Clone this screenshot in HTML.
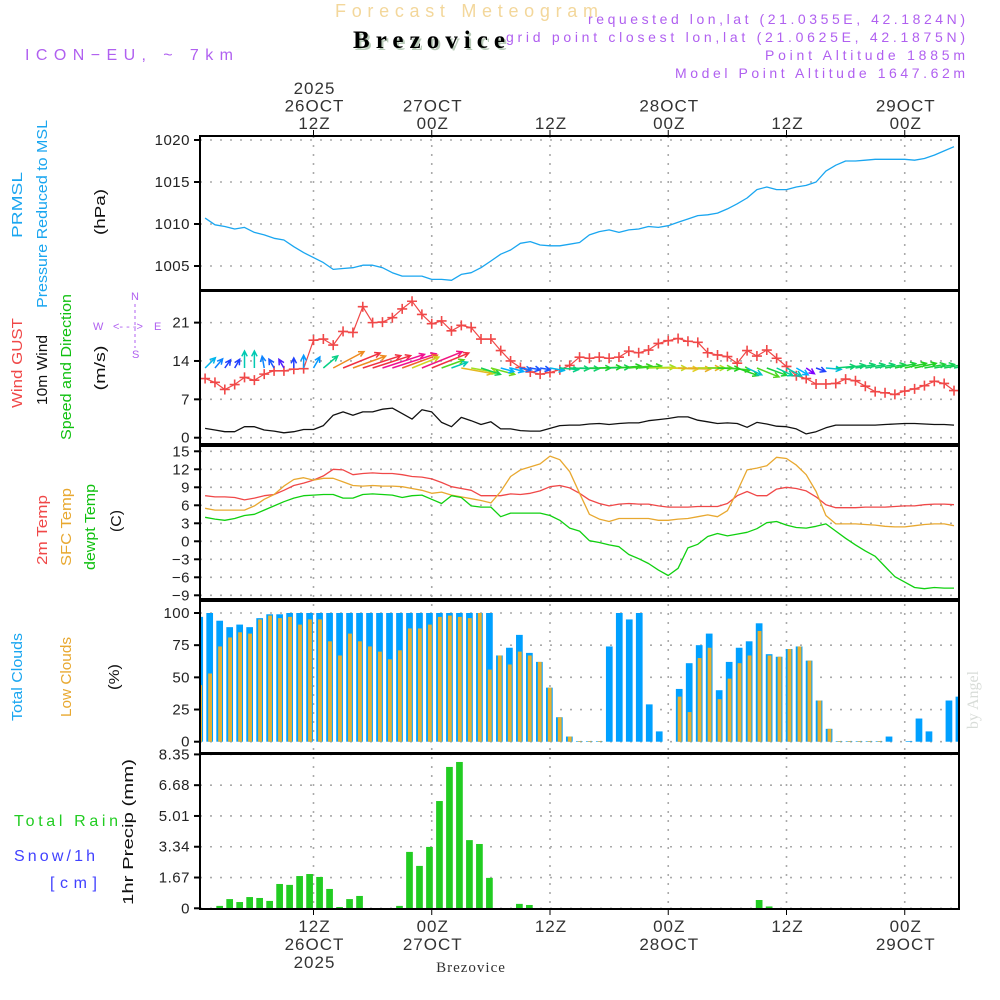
<!DOCTYPE html>
<html><head><meta charset="utf-8"><style>
body{margin:0;background:#fff;width:1000px;height:1000px;overflow:hidden}
svg{display:block;font-family:"Liberation Sans",sans-serif}
</style></head><body>
<svg id="c" width="1000" height="1000" viewBox="0 0 1000 1000">
<defs><clipPath id="pc"><rect x="200" y="130" width="759" height="790"/></clipPath></defs>
<g id="hdr">
<text x="335" y="17" textLength="263" font-size="18" fill="#f3d79b">Forecast Meteogram</text>
<text x="355" y="50" textLength="152" font-size="25" font-weight="bold" font-family="Liberation Serif,serif" fill="#b9cbb9">Brezovice</text>
<text x="353" y="48" textLength="152" font-size="25" font-weight="bold" font-family="Liberation Serif,serif" fill="#000">Brezovice</text>
<text x="25" y="60" textLength="208" font-size="16" fill="#b060f0">ICON−EU, ~ 7km</text>
<text x="965" y="24" text-anchor="end" textLength="377" font-size="14" fill="#b060f0">requested lon,lat (21.0355E, 42.1824N)</text>
<text x="965" y="42" text-anchor="end" textLength="459" font-size="14" fill="#b060f0">grid point closest lon,lat (21.0625E, 42.1875N)</text>
<text x="965" y="60" text-anchor="end" textLength="200" font-size="14" fill="#b060f0">Point Altitude 1885m</text>
<text x="965" y="78" text-anchor="end" textLength="290" font-size="14" fill="#b060f0">Model Point Altitude 1647.62m</text>
<text x="978" y="700" transform="rotate(-90 978 700)" text-anchor="middle" font-size="16" font-family="Liberation Serif,serif" fill="#d8dcd8">by Angel</text>
</g>
<g id="grid"></g>
<g id="marks" clip-path="url(#pc)"></g>
<g id="frames"></g>
<g id="labels"></g>
</svg>
<script>
// ---- data (hourly, hours 1..77 from 26 OCT 00Z) ----
const pressure=[1010.7,1009.9,1009.7,1009.4,1009.6,1009.0,1008.7,1008.3,1008.1,1007.3,1006.6,1006.0,1005.4,1004.6,1004.7,1004.8,1005.1,1005.1,1004.8,1004.2,1003.8,1003.8,1003.8,1003.4,1003.4,1003.3,1004.0,1004.2,1004.8,1005.6,1006.4,1006.9,1007.7,1007.9,1007.5,1007.4,1007.4,1007.6,1007.8,1008.7,1009.1,1009.3,1009.0,1009.3,1009.4,1009.7,1009.6,1009.8,1010.2,1010.6,1011.0,1011.1,1011.3,1011.8,1012.4,1013.1,1014.1,1014.4,1014.1,1014.1,1014.4,1014.6,1015.0,1016.3,1017.0,1017.5,1017.5,1017.6,1017.7,1017.7,1017.7,1017.7,1017.6,1017.8,1018.2,1018.7,1019.2];
const gust=[10.8,10.1,8.8,9.7,11.0,10.5,11.6,12.2,12.2,12.5,12.6,17.8,18.0,16.9,19.4,19.2,23.9,21.0,21.1,21.9,23.5,24.9,22.5,20.8,21.3,19.5,20.5,20.1,18.0,18.0,15.9,14.0,12.8,12.0,11.6,11.9,12.4,13.2,14.7,14.5,14.7,14.5,14.7,15.8,15.5,16.0,17.2,17.7,18.1,17.6,17.4,15.5,15.1,14.8,13.6,15.9,14.9,16.0,14.5,13.0,11.3,10.8,9.8,9.8,9.9,10.7,10.4,9.4,8.4,8.2,7.9,8.5,8.9,9.5,10.3,9.9,8.6];
const wind=[1.7,1.4,1.1,1.1,2.0,2.0,1.4,1.2,0.9,1.1,1.5,1.5,2.2,4.1,4.7,4.1,4.7,4.7,5.2,5.4,4.4,3.4,5.1,4.7,2.8,2.0,3.7,3.1,2.4,2.9,1.6,1.6,1.3,1.2,1.2,1.7,2.2,2.3,2.3,2.5,2.6,2.4,2.6,2.7,2.7,3.1,3.3,3.5,3.8,3.8,3.2,2.9,2.6,2.7,2.6,1.9,2.8,2.5,2.1,2.0,1.6,0.7,1.1,1.8,2.3,2.3,2.3,2.3,2.3,2.4,2.5,2.6,2.6,2.5,2.4,2.4,2.3];
const windDir=[45,40,35,30,0,0,350,330,330,0,0,30,50,62,68,70,72,72,72,72,70,68,68,68,70,70,100,100,108,105,105,105,100,100,100,100,95,92,92,90,88,88,85,85,85,88,90,92,92,90,90,90,92,95,110,115,112,110,115,118,120,125,110,95,85,82,80,80,80,80,78,78,78,80,80,80,80];
const temp2m=[7.6,7.4,7.4,7.3,6.9,7.2,7.6,7.8,8.5,9.3,9.7,10.2,10.9,12.0,11.9,11.1,11.3,11.4,11.3,11.3,11.1,10.8,10.7,10.4,9.8,9.1,8.8,8.5,7.6,7.6,7.6,7.9,7.8,8.0,8.4,9.1,9.3,8.9,8.0,6.9,6.3,5.9,6.2,6.3,6.2,6.2,5.9,5.7,5.7,5.7,5.8,5.8,5.8,6.3,7.6,8.3,7.6,7.6,8.7,9.0,8.8,8.4,7.4,6.1,5.6,5.6,5.6,5.7,5.7,5.7,5.8,5.9,5.9,6.1,6.2,6.2,6.1];
const tempSfc=[5.5,5.2,5.2,5.2,5.2,5.9,7.0,7.8,9.2,10.3,10.6,10.2,10.5,10.5,9.9,9.3,9.2,9.3,9.2,9.2,9.1,8.8,8.5,8.0,8.2,7.7,7.4,7.1,6.8,6.4,8.3,10.8,11.9,12.4,12.9,14.2,13.6,11.6,8.0,4.5,3.7,3.3,3.8,3.8,3.8,3.8,3.5,3.5,3.7,3.8,4.1,4.4,4.1,5.1,8.3,11.9,12.2,12.6,14.0,13.8,12.7,11.1,8.3,4.3,2.9,2.9,2.9,2.8,2.7,2.5,2.4,2.4,2.6,2.8,2.9,2.9,2.6];
const dewpt=[4.0,3.7,3.5,3.8,4.3,4.5,5.2,5.9,6.6,7.2,7.6,7.7,7.8,7.8,7.2,7.2,7.8,7.9,7.8,7.7,7.3,7.6,7.7,7.0,6.3,7.6,7.3,5.9,5.7,5.7,4.1,4.7,4.7,4.7,4.7,4.3,3.5,2.2,1.7,0.1,-0.2,-0.6,-0.9,-2.2,-2.9,-3.7,-4.8,-5.7,-4.5,-1.1,-0.5,0.8,1.3,0.9,1.2,1.5,2.1,3.1,3.3,2.7,2.3,2.2,2.5,2.9,1.7,0.5,-0.6,-1.6,-2.5,-4.2,-5.9,-6.8,-7.7,-7.9,-7.7,-7.8,-7.8];
// bar series (78 bars)
const totalClouds=[97,100,94,89,91,89,96,99,99,100,100,100,100,100,100,100,100,100,100,100,100,100,100,100,100,100,100,100,100,100,67,73,83,69,62,42,19,4,0.5,0.5,0.5,74,100,95,100,29,8,0,41,61,75,84,40,62,73,78,92,68,66,72,74,63,32,10,0.5,0.5,0.5,0.5,0.5,4,0,0.5,18,8,0,32,35,0];
const lowClouds=[44,53,74,81,85,84,95,98,96,97,91,95,95,78,67,84,78,74,70,64,71,88,88,91,97,98,97,96,100,56,67,60,70,67,62,42,19,4,0.5,0.5,0.5,0,0,0,0,0,0,0,35,23,65,73,33,49,61,67,86,67,66,72,74,63,32,10,0.5,0.5,0.5,0.5,0.5,0,0,0,0,0,0,0,0,0];
const precip=[0,0,0.13,0.5,0.34,0.61,0.56,0.4,1.32,1.27,1.75,1.86,1.7,1.05,0.07,0.5,0.67,0,0,0,0.13,3.06,2.3,3.33,5.82,7.67,7.94,3.7,3.49,1.65,0,0,0.24,0.18,0,0,0,0,0,0,0,0,0,0,0,0,0,0,0,0,0,0,0,0,0,0,0.45,0.1,0,0,0,0,0,0,0,0,0,0,0,0,0,0,0,0,0,0,0,0];
const pTicks=[1020,1015,1010,1005];
const wTicks=[21,14,7,0];
const tTicks=[15,12,9,6,3,0,-3,-6,-9];
const cTicks=[100,75,50,25,0];
const rTicks=[8.35,6.68,5.01,3.34,1.67,0];
const timeHours=[12,24,36,48,60,72];
const topLab=[["2025","26OCT","12Z"],["","27OCT","00Z"],["","","12Z"],["","28OCT","00Z"],["","","12Z"],["","29OCT","00Z"]];
const botLab=[["12Z","26OCT","2025"],["00Z","27OCT",""],["12Z","",""],["00Z","28OCT",""],["12Z","",""],["00Z","29OCT",""]];

// ---- scales ----
const X0=200,X1=959;
const xh=h=>195.25+h*9.854;
const xb=k=>199.7+k*9.99;
const yP=p=>140+(1020-p)*8.4;
const yW=v=>437.7-v*5.48;
const yT=t=>541.3-t*6;
const yC=c=>741.7-c*1.287;
const yR=r=>908.3-r*18.43;
const panels=[[136,290],[291,444],[446,599],[601,753],[754,909]];

const NS='http://www.w3.org/2000/svg';
function mk(tag,attrs,parent){const e=document.createElementNS(NS,tag);for(const k in attrs)e.setAttribute(k,attrs[k]);parent.appendChild(e);return e;}
const G=document.getElementById('grid'),M=document.getElementById('marks'),F=document.getElementById('frames'),L=document.getElementById('labels');

function hgrid(vals,yf,fmt,name){
  vals.forEach(v=>{
    const y=yf(v);
    const g=mk('line',{x1:X0,x2:X1,y1:y,y2:y,stroke:'#aaa','stroke-width':1.6,'stroke-dasharray':'2 8'},G);
    
    
    const tk=mk('line',{x1:X0-6,x2:X0,y1:y,y2:y,stroke:'#000','stroke-width':2},F);
    
    
    const t=mk('text',{x:X0-10,y:y+5,'text-anchor':'end','font-size':15,fill:'#222','letter-spacing':'0.5'},L);
    t.textContent=fmt(v);
    
    
  });
}
hgrid(pTicks,yP,v=>v,'pressure');
hgrid(wTicks,yW,v=>v,'wind');
hgrid(tTicks,yT,v=>v<0?'−'+(-v):v,'temp');
hgrid(cTicks,yC,v=>v,'cloud');
hgrid(rTicks,yR,v=>v==0?'0':v.toFixed(2),'precip');

timeHours.forEach((h,i)=>{
  const x=xh(h);
  const v=mk('line',{x1:x,x2:x,y1:136,y2:909,stroke:'#aaa','stroke-width':1.6,'stroke-dasharray':'2 7'},G);
  
  
  const t1=mk('line',{x1:x,x2:x,y1:130,y2:136,stroke:'#000','stroke-width':1},F);
  
  
  const t2=mk('line',{x1:x,x2:x,y1:909,y2:915,stroke:'#000','stroke-width':1},F);
  
  
  topLab[i].forEach((s,j)=>{ if(!s)return;
    const t=mk('text',{x:x+1,y:94+j*17.5,'text-anchor':'middle','font-size':17,fill:'#333','letter-spacing':'1'},L);
    t.textContent=s;
    
    
  });
  botLab[i].forEach((s,j)=>{ if(!s)return;
    const t=mk('text',{x:x+1,y:932+j*18,'text-anchor':'middle','font-size':17,fill:'#333','letter-spacing':'1'},L);
    t.textContent=s;
    
    
  });
});

// frames
panels.forEach((p,i)=>{
  const r=mk('rect',{x:X0,y:p[0],width:X1-X0,height:p[1]-p[0],fill:'none',stroke:'#000','stroke-width':2},F);
  
  
});

function line(arr,yf,color,w,name){
  const d=arr.map((v,i)=>(i?'L':'M')+xh(i+1).toFixed(1)+' '+yf(v).toFixed(1)).join(' ');
  const p=mk('path',{d:d,fill:'none',stroke:color,'stroke-width':w,'stroke-linejoin':'round'},M);
  
  
}
// bars
function bars(arr,yf,color,w,name,off){
  arr.forEach((v,k)=>{
    const y=yf(v),yb=yf(0);
    const r=mk('rect',{x:xb(k)-w/2+(off||0),y:y,width:w,height:Math.max(0,yb-y),fill:color},M);
    
    
  });
}
bars(totalClouds,yC,'#00a0ff',6.7,'total-cloud-bar');
bars(lowClouds,yC,'#e8b030',3.8,'low-cloud-bar',0.4);
bars(precip,yR,'#22cc22',6.7,'precip-bar');

line(pressure,yP,'#1aa6f0',1.3,'pressure-line');
line(temp2m,yT,'#f04848',1.3,'temp-2m-line');
line(tempSfc,yT,'#e8a830',1.3,'temp-sfc-line');
line(dewpt,yT,'#10d010',1.3,'dewpoint-line');
line(wind,yW,'#111',1.3,'wind-speed-line');
line(gust,yW,'#f04848',1.2,'gust-line');
gust.forEach((v,i)=>{
  const x=xh(i+1),y=yW(v);
  const p=mk('path',{d:`M${x-5} ${y}H${x+5}M${x} ${y-5}V${y+5}`,stroke:'#f04848','stroke-width':1.6},M);
  
  
});
// wind arrows
const stops=[[0.7,[128,0,255]],[1.1,[32,64,255]],[1.6,[0,176,255]],[2.1,[0,208,160]],[2.6,[32,208,32]],[3.1,[160,224,32]],[3.5,[224,208,32]],[4.2,[240,128,32]],[4.7,[240,48,64]],[5.2,[240,16,144]]];
function col(s){
  if(s<=stops[0][0])return `rgb(${stops[0][1]})`;
  for(let i=1;i<stops.length;i++){if(s<=stops[i][0]){const a=stops[i-1],b=stops[i],t=(s-a[0])/(b[0]-a[0]);return 'rgb('+a[1].map((c,j)=>Math.round(c+(b[1][j]-c)*t)).join(',')+')';}}
  return `rgb(${stops[stops.length-1][1]})`;
}
wind.forEach((s,i)=>{
  const x=xh(i+1),y=368,len=Math.max(10,s*8.5),a=windDir[i]*Math.PI/180;
  const ex=x+Math.sin(a)*len,ey=y-Math.cos(a)*len;
  const h1=a+Math.PI*0.85,h2=a-Math.PI*0.85;
  const d=`M${x} ${y}L${ex} ${ey}M${ex+Math.sin(h1)*6} ${ey-Math.cos(h1)*6}L${ex} ${ey}L${ex+Math.sin(h2)*6} ${ey-Math.cos(h2)*6}`;
  const p=mk('path',{d:d,stroke:col(s),'stroke-width':1.5,fill:'none'},M);
  
  
});

// rotated axis titles
function vlabel(txt,x,yc,len,color,name){
  const t=mk('text',{x:x,y:yc,transform:`rotate(-90 ${x} ${yc})`,'text-anchor':'middle','font-size':15,fill:color,textLength:len,lengthAdjust:'spacingAndGlyphs'},L);
  t.textContent=txt;
  
  
}
vlabel('PRMSL',22,205,66,'#1aa6f0','pressure-title-1');
vlabel('Pressure Reduced to MSL',47,214,188,'#1aa6f0','pressure-title-2');
vlabel('(hPa)',105,212,46,'#111','pressure-unit');
vlabel('Wind GUST',22,363,90,'#f04848','gust-title');
vlabel('10m Wind',47,370,70,'#111','wind-title');
vlabel('Speed and Direction',71,367,146,'#10c010','wind-dir-title');
vlabel('(m/s)',105,368,45,'#111','wind-unit');
vlabel('2m Temp',47,530,70,'#f04848','temp-2m-title');
vlabel('SFC Temp',71,527,78,'#e8a830','temp-sfc-title');
vlabel('dewpt Temp',95,527,86,'#10c010','dewpoint-title');
vlabel('(C)',121,521,22,'#111','temp-unit');
vlabel('Total Clouds',22,677,88,'#1aa6f0','total-cloud-title');
vlabel('Low Clouds',71,677,80,'#e8a830','low-cloud-title');
vlabel('(%)',119,677,26,'#111','cloud-unit');
vlabel('1hr Precip (mm)',133,832,146,'#111','precip-title');
[['Total  Rain',14,826,104,'#22cc22','rain-legend'],['Snow/1h',14,861,81,'#4040ff','snow-legend'],['[cm]',50,888,47,'#4040ff','snow-unit']].forEach(a=>{
  const t=mk('text',{x:a[1],y:a[2],'font-size':16,fill:a[4],textLength:a[3]},L);
  t.textContent=a[0];
  
  
});
// compass
const cg=mk('g',{fill:'#b060f0','font-size':11},L);


mk('text',{x:93,y:330},cg).textContent='W';
mk('text',{x:113,y:330},cg).textContent='<- - ->';
mk('text',{x:154,y:330},cg).textContent='E';
mk('text',{x:131,y:300},cg).textContent='N';
mk('text',{x:132,y:358},cg).textContent='S';
mk('line',{x1:135,x2:135,y1:304,y2:348,stroke:'#b060f0','stroke-dasharray':'3 3'},cg);
const bt=mk('text',{x:471,y:972,'text-anchor':'middle','font-size':15,'font-family':'Liberation Serif,serif',fill:'#333','letter-spacing':'1'},L);
bt.textContent='Brezovice';


</script>
</body></html>
